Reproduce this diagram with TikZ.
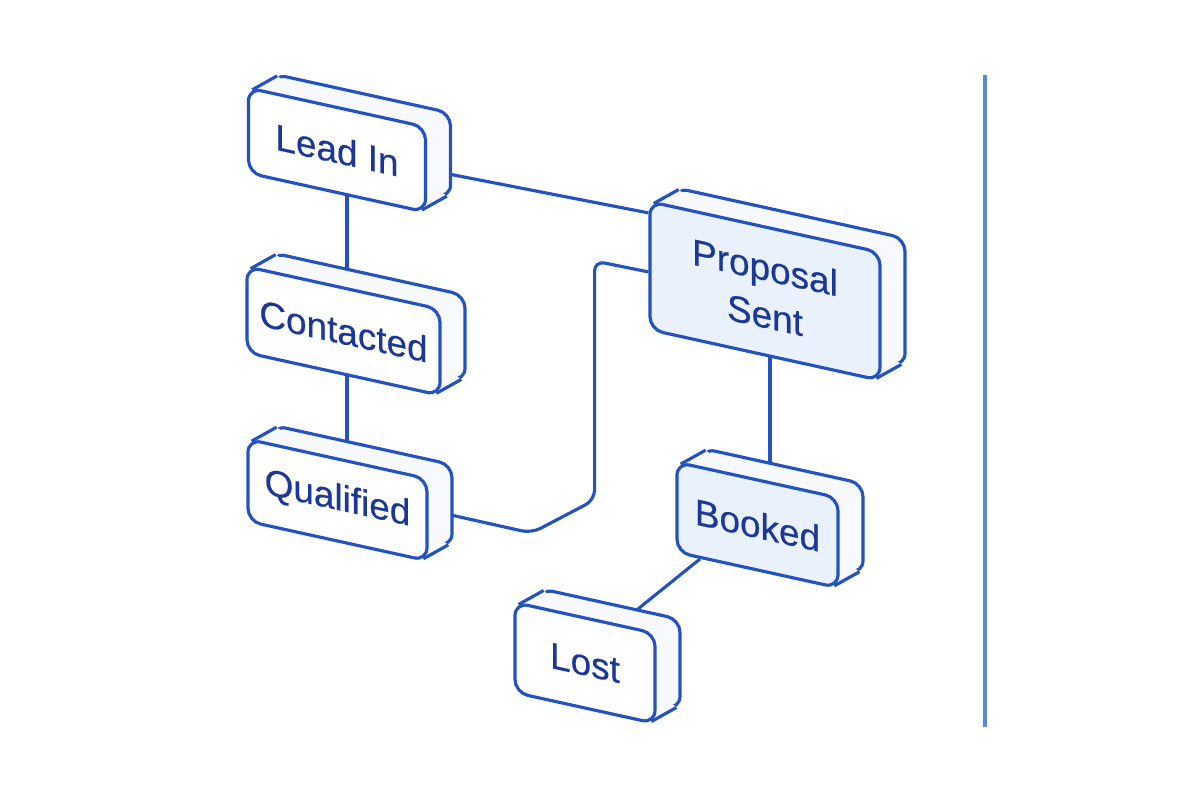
\documentclass[tikz,border=0pt]{standalone}
\usepackage{fontspec}
\setmainfont{Liberation Sans}
\newfontfamily\stagefont[FakeBold=0.5]{Liberation Sans}
\usetikzlibrary{positioning, calc, backgrounds}
\definecolor{edgeblue}{RGB}{36,82,190}
\definecolor{textblue}{RGB}{28,56,150}
\definecolor{faceblue}{RGB}{233,242,252}
\definecolor{sideface}{RGB}{247,249,252}
\definecolor{railblue}{RGB}{90,134,219}
\tikzset{
  stage/.style={draw=edgeblue, line width=0.9pt, rounded corners=0.13cm, yslant=-0.22,
    inner sep=0pt, font=\stagefont\fontsize{10.5}{13.5}\selectfont, text=textblue, align=center},
  link/.style={draw=edgeblue, line width=0.9pt, rounded corners=0.1cm},
  rail/.style={draw=railblue, line width=1pt},
}
\newcommand{\depth}{0.25,0.14}
% name, position, width, height, face colour, label
\newcommand{\stagebox}[6]{%
  \node[stage, fill=sideface, minimum width=#3, minimum height=#4] (#1-back) at ($(#2)+(\depth)$) {};
  \fill[sideface] ($(#1-back.north west)+(0.052,-0.038)-(\depth)$) -- ($(#1-back.north west)+(0.052,-0.038)$)
    -- ($(#1-back.south east)+(-0.052,0.038)$) -- ($(#1-back.south east)+(-0.052,0.038)-(\depth)$) -- cycle;
  \draw[edgeblue, line width=0.9pt] ($(#1-back.north west)+(0.052,-0.038)-(\depth)$) -- ($(#1-back.north west)+(0.052,-0.038)$);
  \draw[edgeblue, line width=0.9pt] ($(#1-back.south east)+(-0.052,0.038)-(\depth)$) -- ($(#1-back.south east)+(-0.052,0.038)$);
  \node[stage, fill=#5, minimum width=#3, minimum height=#4] (#1) at (#2) {#6};
}

\begin{document}
\begin{tikzpicture}
	\useasboundingbox (0,0) rectangle (12,-8);
	% Stages
	\stagebox{lead}{3.37,-1.50}{1.77cm}{0.85cm}{white}{Lead In}
	\stagebox{contacted}{3.435,-3.31}{1.93cm}{0.86cm}{white}{Contacted}
	\stagebox{qualified}{3.375,-5.00}{1.79cm}{0.82cm}{white}{Qualified}
	\stagebox{proposal}{7.65,-2.91}{2.30cm}{1.28cm}{faceblue}{Proposal\\Sent}
	\stagebox{booked}{7.575,-5.25}{1.61cm}{0.90cm}{faceblue}{Booked}
	\stagebox{lost}{5.85,-6.63}{1.40cm}{0.90cm}{white}{Lost}
	% Links
	\begin{scope}[on background layer]
		\draw[link] ([xshift=0.1cm]lead.south) -- ([xshift=0.1cm]lead.south |- contacted.north);
		\draw[link] ([xshift=0.035cm]contacted.south) -- ([xshift=0.035cm]contacted.south |- qualified.north);
		\draw[link] (lead.east) -- ($(proposal.north west)!0.1!(proposal.south west)$);
		\draw[link] ([yshift=0.1cm]qualified.east) -- ++(1.03,-0.23) -- ++(0.63,0.33) -- ++(0,2.39)
			-- ($(proposal.north west)!0.55!(proposal.south west)$);
		\draw[link] ([xshift=0.05cm]proposal.south) -- ([xshift=0.05cm]proposal.south |- booked.north);
		\draw[link] ($(booked.south west)!0.15!(booked.south east)$) -- ($(lost.north west)!0.74!(lost.north east)$);
	\end{scope}
	% Divider
	\draw[rail] (9.85,-0.75) -- (9.85,-7.27);
\end{tikzpicture}
\end{document}
